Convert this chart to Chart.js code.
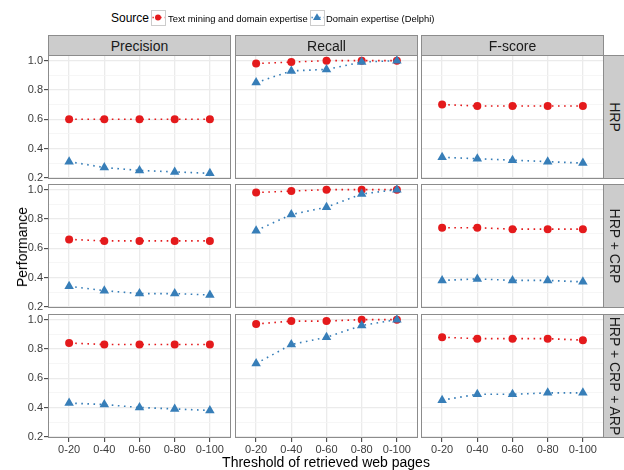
<!DOCTYPE html>
<html>
<head>
<meta charset="utf-8">
<script src="https://cdn.jsdelivr.net/npm/chart.js@4.4.1/dist/chart.umd.min.js"></script>
<style>
  html,body{margin:0;padding:0;background:#fff;}
  body{width:624px;height:470px;overflow:hidden;position:relative;font-family:"Liberation Sans",Arial,sans-serif;color:#000;}
  .abs{position:absolute;}
  .strip{position:absolute;background:#CCCCCC;border:1px solid #8C8C8C;box-sizing:border-box;font-size:14px;color:#1A1A1A;overflow:hidden;}
  .strip .t{position:absolute;left:50%;top:50%;white-space:nowrap;transform:translate(-50%,-50%);}
  .strip .r{position:absolute;left:50%;top:50%;white-space:nowrap;transform:translate(-50%,-50%) rotate(90deg);}
  .lg{position:absolute;white-space:nowrap;}
</style>
</head>
<body>
<div id="root"></div>
<script>
// ---------- data ----------
const categories = ["0-20", "0-40", "0-60", "0-80", "0-100"];
const metricNames = ["Precision", "Recall", "F-score"];
const sourceSets = ["HRP", "HRP + CRP", "HRP + CRP + ARP"];
const seriesNames = ["Text mining and domain expertise", "Domain expertise (Delphi)"];
const yTickValues = [0.2, 0.4, 0.6, 0.8, 1.0];
const yTickLabels = ["0.2", "0.4", "0.6", "0.8", "1.0"];
const yMinorValues = [0.3, 0.5, 0.7, 0.9];

// HRP
const textMiningHRPPrecision = [0.60, 0.60, 0.60, 0.60, 0.60];
const delphiHRPPrecision     = [0.31, 0.27, 0.25, 0.24, 0.23];
const textMiningHRPRecall    = [0.98, 0.99, 1.00, 1.00, 1.00];
const delphiHRPRecall        = [0.85, 0.93, 0.94, 0.99, 1.00];
const textMiningHRPFscore    = [0.70, 0.69, 0.69, 0.69, 0.69];
const delphiHRPFscore        = [0.34, 0.33, 0.32, 0.31, 0.30];
// HRP + CRP
const textMiningCRPPrecision = [0.66, 0.65, 0.65, 0.65, 0.65];
const delphiCRPPrecision     = [0.34, 0.31, 0.29, 0.29, 0.28];
const textMiningCRPRecall    = [0.98, 0.99, 1.00, 1.00, 1.00];
const delphiCRPRecall        = [0.72, 0.83, 0.88, 0.97, 1.00];
const textMiningCRPFscore    = [0.74, 0.74, 0.73, 0.73, 0.73];
const delphiCRPFscore        = [0.38, 0.39, 0.38, 0.38, 0.37];
// HRP + CRP + ARP
const textMiningARPPrecision = [0.84, 0.83, 0.83, 0.83, 0.83];
const delphiARPPrecision     = [0.43, 0.42, 0.40, 0.39, 0.38];
const textMiningARPRecall    = [0.97, 0.99, 0.99, 1.00, 1.00];
const delphiARPRecall        = [0.70, 0.83, 0.88, 0.96, 1.00];
const textMiningARPFscore    = [0.88, 0.87, 0.87, 0.87, 0.86];
const delphiARPFscore        = [0.45, 0.49, 0.49, 0.50, 0.50];

const panelData = [
  [[textMiningHRPPrecision, delphiHRPPrecision], [textMiningHRPRecall, delphiHRPRecall], [textMiningHRPFscore, delphiHRPFscore]],
  [[textMiningCRPPrecision, delphiCRPPrecision], [textMiningCRPRecall, delphiCRPRecall], [textMiningCRPFscore, delphiCRPFscore]],
  [[textMiningARPPrecision, delphiARPPrecision], [textMiningARPRecall, delphiARPRecall], [textMiningARPFscore, delphiARPFscore]]
];

// ---------- layout / style ----------
const RED = "#E41A1C", BLUE = "#377EB8";
const colLeft = [48, 235, 421], panelW = 183;
const rowTop = [55, 184, 314], panelH = 124;
const yMin = 0.1915, yMax = 1.0385;
const xMin = 0.4, xMax = 5.6;
const LEFT_AXIS = 48, BOTTOM_AXIS = 20, GAP_AXIS = 6;
const FONT = "'Liberation Sans', Arial, sans-serif";
Chart.defaults.font.family = FONT;

const root = document.getElementById('root');
function el(tag, cls, css, html) {
  const e = document.createElement(tag);
  if (cls) e.className = cls;
  Object.assign(e.style, css || {});
  if (html !== undefined) e.innerHTML = html;
  root.appendChild(e);
  return e;
}

const borderPlugin = {
  id: 'panelBorder',
  afterDraw(chart) {
    const a = chart.chartArea, ctx = chart.ctx;
    ctx.save();
    ctx.strokeStyle = '#8C8C8C';
    ctx.lineWidth = 1;
    ctx.strokeRect(Math.round(a.left) + 0.5, Math.round(a.top) + 0.5, Math.round(a.right - a.left) - 1, Math.round(a.bottom - a.top) - 1);
    ctx.restore();
  }
};

function isMajor(v) { return yTickValues.some(t => Math.abs(t - v) < 1e-9); }

function makePanel(r, c) {
  const isLeft = c === 0, isBottom = r === 2;
  const padL = isLeft ? LEFT_AXIS : 0;
  const padB = isBottom ? BOTTOM_AXIS : GAP_AXIS;
  const w = panelW + padL, h = panelH + padB;
  const wrap = el('div', 'abs', {left: (colLeft[c] - padL) + 'px', top: rowTop[r] + 'px', width: w + 'px', height: h + 'px'});
  const cv = document.createElement('canvas');
  cv.width = w; cv.height = h;
  cv.style.width = w + 'px'; cv.style.height = h + 'px';
  wrap.appendChild(cv);
  const [tm, de] = panelData[r][c];
  const common = {showLine: true, fill: false, borderWidth: 1.6, borderDash: [1.6, 4.5], pointBorderWidth: 0, tension: 0, clip: false};
  new Chart(cv, {
    type: 'line',
    data: {
      datasets: [
        Object.assign({}, common, {label: seriesNames[0], data: tm.map((v, i) => ({x: i + 1, y: v})),
          borderColor: RED, backgroundColor: RED, pointBackgroundColor: RED, pointStyle: 'circle', pointRadius: 4, order: 1}),
        Object.assign({}, common, {label: seriesNames[1], data: de.map((v, i) => ({x: i + 1, y: v})),
          borderColor: BLUE, backgroundColor: BLUE, pointBackgroundColor: BLUE, pointStyle: 'triangle', pointRadius: 5.5, order: 0})
      ]
    },
    options: {
      responsive: false, animation: false, events: [],
      layout: {padding: 0, autoPadding: false},
      plugins: {legend: {display: false}, tooltip: {enabled: false}},
      scales: {
        x: {
          type: 'linear', min: xMin, max: xMax,
          afterBuildTicks: s => { s.ticks = categories.map((_, i) => ({value: i + 1})); },
          afterFit: s => { s.height = padB; s.paddingLeft = 0; s.paddingRight = 0; },
          ticks: {display: isBottom, autoSkip: false, maxRotation: 0, padding: 1, color: '#3C3C3C',
            font: {size: 11, family: FONT}, callback: v => categories[Math.round(v) - 1]},
          grid: {color: '#EBEBEB', lineWidth: 1.3, drawTicks: isBottom, tickLength: 4, tickColor: '#333333', tickWidth: 1},
          border: {display: false}
        },
        y: {
          type: 'linear', min: yMin, max: yMax,
          afterBuildTicks: s => { s.ticks = yTickValues.concat(yMinorValues).sort((a, b) => a - b).map(v => ({value: v})); },
          afterFit: s => { s.width = padL; s.paddingTop = 0; s.paddingBottom = 0; },
          ticks: {display: isLeft, autoSkip: false, padding: 1, color: '#3C3C3C', font: {size: 11, family: FONT},
            callback: v => { const i = yTickValues.findIndex(t => Math.abs(t - v) < 1e-9); return i >= 0 ? yTickLabels[i] : ''; }},
          grid: {
            color: ctx => isMajor(ctx.tick.value) ? '#EBEBEB' : '#F4F4F4',
            lineWidth: ctx => isMajor(ctx.tick.value) ? 1.3 : 0.8,
            drawTicks: isLeft, tickLength: 4, tickWidth: 1,
            tickColor: ctx => isMajor(ctx.tick.value) ? '#333333' : 'rgba(0,0,0,0)'
          },
          border: {display: false}
        }
      }
    },
    plugins: [borderPlugin]
  });
}

for (let r = 0; r < 3; r++) for (let c = 0; c < 3; c++) makePanel(r, c);

// ---------- strips ----------
metricNames.forEach((m, c) => {
  const s = el('div', 'strip', {left: colLeft[c] + 'px', top: '35px', width: (panelW) + 'px', height: '21px'});
  const t = document.createElement('span'); t.className = 't'; t.textContent = m; s.appendChild(t);
});
sourceSets.forEach((m, r) => {
  const s = el('div', 'strip', {left: '603px', top: rowTop[r] + 'px', width: '24px', height: panelH + 'px'});
  const t = document.createElement('span'); t.className = 'r'; t.textContent = m;
  t.style.left = '11px';
  s.appendChild(t);
});

// ---------- axis titles ----------
el('div', 'abs', {left: '326px', top: '462px', transform: 'translate(-50%,-50%)', fontSize: '14px', whiteSpace: 'nowrap'}, 'Threshold of retrieved web pages');
el('div', 'abs', {left: '22px', top: '247px', transform: 'translate(-50%,-50%) rotate(-90deg)', fontSize: '14px', whiteSpace: 'nowrap'}, 'Performance');

// ---------- legend ----------
el('div', 'lg', {left: '111px', top: '18px', transform: 'translateY(-50%)', fontSize: '12px'}, 'Source');
function keySvg(color, shape) {
  const mark = shape === 'circle'
    ? `<circle cx="7" cy="7.5" r="3" fill="${color}"/>`
    : `<polygon points="7,3.3 11,10 3,10" fill="${color}"/>`;
  return `<svg width="15" height="16" viewBox="0 0 15 16"><rect x="0.5" y="0.5" width="14" height="15" fill="#fff" stroke="#CCCCCC"/>` +
    `<line x1="1.5" y1="7.5" x2="13.5" y2="7.5" stroke="${color}" stroke-width="1.3" stroke-dasharray="1.3,2.6"/>` + mark + `</svg>`;
}
el('div', 'lg', {left: '151px', top: '10px'}, keySvg(RED, 'circle'));
el('div', 'lg', {left: '168px', top: '18px', transform: 'translateY(-50%)', fontSize: '9.4px'}, seriesNames[0]);
el('div', 'lg', {left: '310px', top: '10px'}, keySvg(BLUE, 'triangle'));
el('div', 'lg', {left: '326px', top: '18px', transform: 'translateY(-50%)', fontSize: '9.4px'}, seriesNames[1]);
</script>
</body>
</html>
